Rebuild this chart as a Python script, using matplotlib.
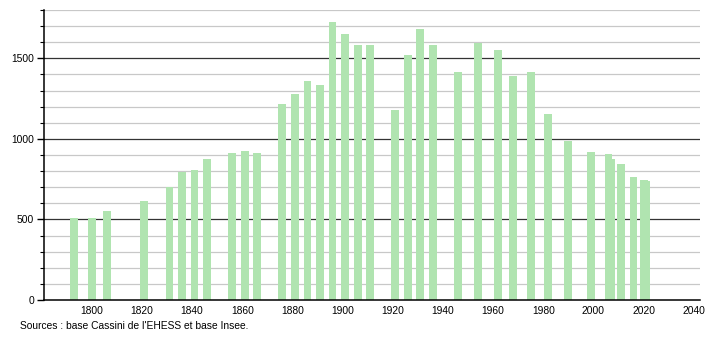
import matplotlib
matplotlib.use('Agg')
import matplotlib.pyplot as plt

# recensements
annees = [1793, 1800, 1806, 1821, 1831, 1836, 1841, 1846, 1856, 1861, 1866,
          1876, 1881, 1886, 1891, 1896, 1901, 1906, 1911, 1921, 1926, 1931,
          1936, 1946, 1954, 1962, 1968, 1975, 1982, 1990, 1999, 2006, 2007,
          2011, 2016, 2020, 2021]
population = [509, 509, 555, 617, 702, 796, 804, 877, 910, 923, 910,
              1216, 1278, 1361, 1334, 1725, 1648, 1584, 1584, 1178, 1523, 1683,
              1584, 1417, 1594, 1552, 1392, 1417, 1153, 987, 918, 904, 877,
              846, 763, 742, 740]
ticks_x = list(range(1800, 2041, 20))
ticks_y = [0, 500, 1000, 1500]

plt.rcParams['font.family'] = ['Liberation Sans', 'DejaVu Sans']

fig = plt.figure(figsize=(7.1, 3.4), dpi=100)
ax = fig.add_axes([0.062, 0.1176, 0.924, 0.853])

# lignes de grille
for v in range(100, 1801, 100):
    if v % 500 == 0:
        ax.axhline(v, color='#333333', lw=0.9, zorder=1)
    else:
        ax.axhline(v, color='#c8c8c8', lw=0.9, zorder=1)

ax.bar(annees, population, width=3.1, color='#b0e4b0', zorder=2)

ax.set_xlim(1781, 2042.5)
ax.set_ylim(0, 1800)
ax.set_xticks(ticks_x)
ax.set_yticks(ticks_y)
ax.set_yticks(range(0, 1801, 100), minor=True)
ax.tick_params(axis='x', length=0, labelsize=7.4, pad=4)
ax.tick_params(axis='y', which='major', length=5, width=1, labelsize=7.4, pad=2)
ax.tick_params(axis='y', which='minor', length=3, width=0.8)
for s in ['top', 'right']:
    ax.spines[s].set_visible(False)
ax.spines['left'].set_linewidth(1.1)
ax.spines['bottom'].set_linewidth(1.1)

fig.text(0.028, 0.032, "Sources : base Cassini de l'EHESS et base Insee.", fontsize=7.4)

fig.savefig('out.png', dpi=100)
